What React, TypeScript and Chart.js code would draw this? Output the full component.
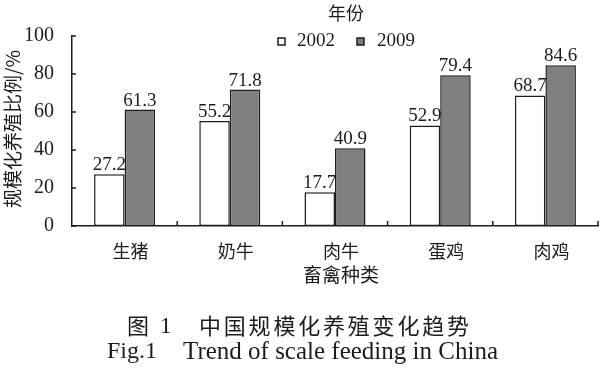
import React, { useEffect, useRef } from "react";
import { Chart, registerables } from "chart.js";

Chart.register(...registerables);

const categories = ["生猪", "奶牛", "肉牛", "蛋鸡", "肉鸡"];
const values2002 = [27.2, 55.2, 17.7, 52.9, 68.7];
const values2009 = [61.3, 71.8, 40.9, 79.4, 84.6];
const seriesNames = ["2002", "2009"];
const seriesColors = ["#ffffff", "#7f7f7f"];
const yTickValues = [0, 20, 40, 60, 80, 100];
const legendTitle = "年份";
const xTitle = "畜禽种类";
const yTitle = "规模化养殖比例/%";
const captionCnLabel = "图";
const captionCnNum = "1";
const captionCnText = "中国规模化养殖变化趋势";
const captionEnLabel = "Fig.1";
const captionEnText = "Trend of scale feeding in China";

const SERIF = "'Liberation Serif', 'Times New Roman', serif";
const CJK = "'Noto Sans CJK SC', 'Noto Sans', sans-serif";
const INK = "#1c1c1c";

const decorPlugin = {
  id: "decor",
  afterDraw(chart: any) {
    const ctx = chart.ctx;
    const xs = chart.scales.x;
    const ys = chart.scales.y;
    ctx.save();
    ctx.strokeStyle = INK;
    ctx.lineWidth = 1.5;
    // y ticks (inward)
    yTickValues.forEach((v) => {
      const y = ys.getPixelForValue(v);
      ctx.beginPath();
      ctx.moveTo(xs.left, y);
      ctx.lineTo(xs.left + 4, y);
      ctx.stroke();
    });
    // x ticks at category boundaries (inward)
    const n = categories.length;
    for (let i = 1; i <= n; i++) {
      const x = xs.left + (i * (xs.right - xs.left)) / n;
      ctx.beginPath();
      ctx.moveTo(x, ys.bottom);
      ctx.lineTo(x, ys.bottom - 5);
      ctx.stroke();
    }
    // data labels
    ctx.fillStyle = INK;
    ctx.font = `19px ${SERIF}`;
    ctx.textAlign = "center";
    ctx.textBaseline = "alphabetic";
    chart.data.datasets.forEach((ds: any, di: number) => {
      const meta = chart.getDatasetMeta(di);
      meta.data.forEach((bar: any, i: number) => {
        ctx.fillText(ds.data[i].toFixed(1), bar.x, bar.y - 4);
      });
    });
    // legend title
    ctx.font = `18px ${CJK}`;
    ctx.textBaseline = "middle";
    ctx.fillText(legendTitle, 346, 13);
    // legend items
    const legendItems = [
      { box: 278, text: 297 },
      { box: 357, text: 377 },
    ];
    legendItems.forEach((li, k) => {
      ctx.fillStyle = seriesColors[k];
      ctx.fillRect(li.box, 38, 7, 7);
      ctx.strokeStyle = INK;
      ctx.lineWidth = 1.5;
      ctx.strokeRect(li.box, 38, 7, 7);
      ctx.fillStyle = INK;
      ctx.font = `19px ${SERIF}`;
      ctx.textAlign = "left";
      ctx.fillText(seriesNames[k], li.text, 41);
    });
    // x title
    ctx.textAlign = "center";
    ctx.font = `19px ${CJK}`;
    ctx.fillText(xTitle, 341, 275);
    // y title
    ctx.save();
    ctx.translate(13, 129);
    ctx.rotate(-Math.PI / 2);
    ctx.font = `19px ${CJK}`;
    ctx.fillText(yTitle, 0, 0);
    ctx.restore();
    // Chinese caption
    ctx.font = `22px ${CJK}`;
    ctx.textAlign = "left";
    ctx.fillText(captionCnLabel, 127, 326);
    ctx.font = `23px ${SERIF}`;
    ctx.fillText(captionCnNum, 160, 327);
    ctx.font = `22px ${CJK}`;
    const chars = Array.from(captionCnText);
    chars.forEach((c, i) => {
      ctx.fillText(c, 199 + i * 24.8, 326);
    });
    // English caption
    ctx.font = `24px ${SERIF}`;
    ctx.fillText(captionEnLabel, 107, 352);
    const w = ctx.measureText(captionEnText).width;
    const target = 498 - 183;
    const size = (24 * target) / w;
    ctx.font = `${size.toFixed(2)}px ${SERIF}`;
    ctx.fillText(captionEnText, 183, 352);
    ctx.restore();
  },
};

export default function App() {
  const ref = useRef<HTMLCanvasElement | null>(null);
  useEffect(() => {
    if (!ref.current) return;
    const chart = new Chart(ref.current, {
      type: "bar",
      data: {
        labels: categories,
        datasets: seriesNames.map((name, k) => ({
          label: name,
          data: k === 0 ? values2002 : values2009,
          backgroundColor: seriesColors[k],
          borderColor: INK,
          borderWidth: 1.5,
          borderSkipped: false,
          categoryPercentage: 0.58,
          barPercentage: 1,
        })),
      },
      options: {
        responsive: false,
        animation: false,
        layout: { padding: { top: 36, right: 2, left: 0, bottom: 0 } },
        plugins: {
          legend: { display: false },
          tooltip: { enabled: false },
          title: { display: false },
        },
        scales: {
          x: {
            grid: { display: false },
            border: { display: true, color: INK, width: 1.5 },
            ticks: {
              color: INK,
              font: { family: CJK, size: 18 },
              padding: 6,
              labelOffset: 6,
              maxRotation: 0,
            },
            afterFit: (s: any) => {
              s.height = 377 - 226;
            },
          },
          y: {
            min: 0,
            max: 100,
            grid: { display: false },
            border: { display: true, color: INK, width: 1.5 },
            ticks: {
              stepSize: 20,
              color: INK,
              font: { family: SERIF, size: 20 },
              padding: 10,
            },
            afterFit: (s: any) => {
              s.width = 72;
            },
          },
        },
      },
      plugins: [decorPlugin],
    });
    return () => chart.destroy();
  }, []);
  return (
    <div style={{ position: "absolute", left: 0, top: 0, width: 600, height: 377, background: "#fff" }}>
      <canvas ref={ref} width={600} height={377} style={{ width: 600, height: 377, display: "block" }} />
    </div>
  );
}
